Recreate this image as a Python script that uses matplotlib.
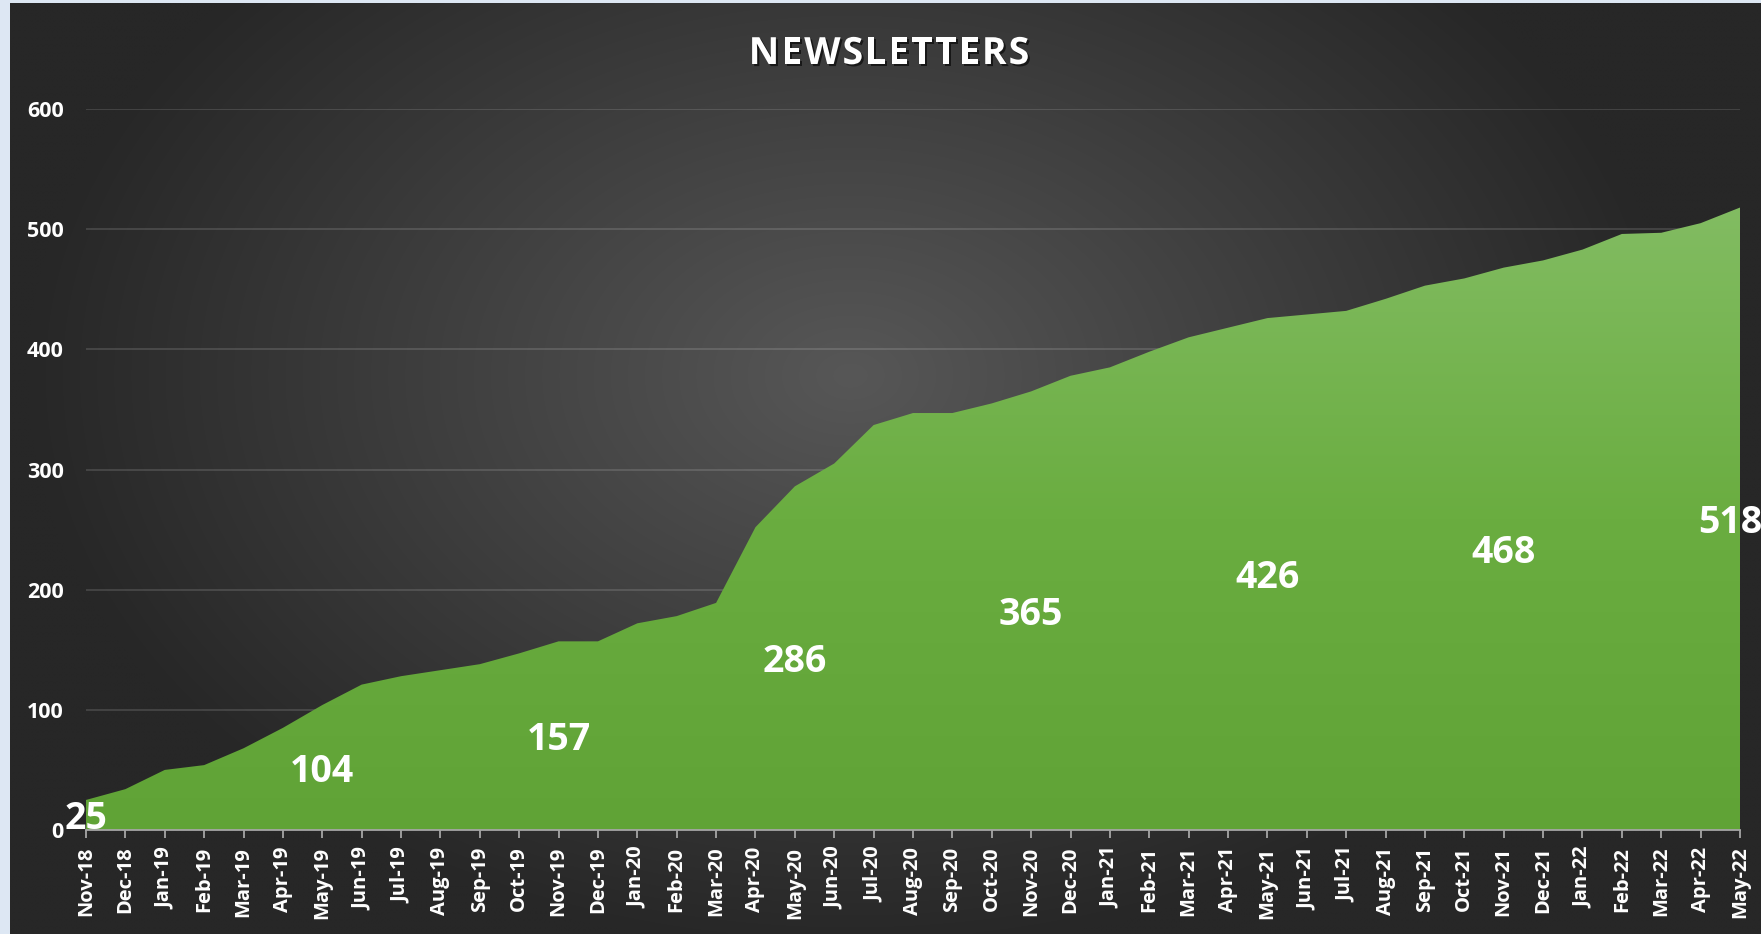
import numpy as np
import matplotlib
matplotlib.use("Agg")
import matplotlib.pyplot as plt
from matplotlib import patheffects as pe
from matplotlib.colors import LinearSegmentedColormap

# ---------------- data ----------------
months = ["Nov-18", "Dec-18",
          "Jan-19", "Feb-19", "Mar-19", "Apr-19", "May-19", "Jun-19",
          "Jul-19", "Aug-19", "Sep-19", "Oct-19", "Nov-19", "Dec-19",
          "Jan-20", "Feb-20", "Mar-20", "Apr-20", "May-20", "Jun-20",
          "Jul-20", "Aug-20", "Sep-20", "Oct-20", "Nov-20", "Dec-20",
          "Jan-21", "Feb-21", "Mar-21", "Apr-21", "May-21", "Jun-21",
          "Jul-21", "Aug-21", "Sep-21", "Oct-21", "Nov-21", "Dec-21",
          "Jan-22", "Feb-22", "Mar-22", "Apr-22", "May-22"]
newsletters = [25, 34,
               50, 54, 68, 85, 104, 121,
               128, 133, 138, 147, 157, 157,
               172, 178, 189, 252, 286, 305,
               337, 347, 347, 355, 365, 378,
               385, 398, 410, 418, 426, 429,
               432, 442, 453, 459, 468, 474,
               483, 496, 497, 505, 518]
labelled_months = ["Nov-18", "May-19", "Nov-19", "May-20", "Nov-20",
                   "May-21", "Nov-21", "May-22"]
y_ticks = [0, 100, 200, 300, 400, 500, 600]
title = "NEWSLETTERS"

FONT = ["Open Sans", "DejaVu Sans"]
plt.rcParams["font.family"] = FONT

W, H = 1761, 934
fig = plt.figure(figsize=(W / 100, H / 100), dpi=100, facecolor="#dde7f3")

# ---------------- background panel (radial gradient) ----------------
bg = fig.add_axes([10 / W, 0, 1 - 10 / W, 1 - 3 / H])
bg.set_axis_off()
gx = np.linspace(0, 1, 700)
gy = np.linspace(0, 1, 380)
GX, GY = np.meshgrid(gx, gy)
cx, cy = 0.48, 0.40
r = np.sqrt(((GX - cx) / 0.47) ** 2 + ((GY - cy) / 0.62) ** 2)
t = np.clip(r, 0, 1)
c_in = np.array([0x57, 0x57, 0x57]) / 255
c_out = np.array([0x27, 0x27, 0x27]) / 255
img = c_in[None, None, :] * (1 - t[..., None]) + c_out[None, None, :] * t[..., None]
bg.imshow(img, extent=[0, 1, 1, 0], aspect="auto", interpolation="bilinear")
bg.set_xlim(0, 1)
bg.set_ylim(1, 0)

# ---------------- main axes ----------------
ax = fig.add_axes([86 / W, 104 / H, (1740 - 86) / W, (830 - 109) / H])
ax.patch.set_alpha(0)
x = np.arange(len(months))

for yt in y_ticks[1:]:
    ax.axhline(yt, color="white", alpha=0.13, lw=1.5, zorder=0)

poly = ax.fill_between(x, newsletters, 0, facecolor="none", edgecolor="none", zorder=2)
green = LinearSegmentedColormap.from_list("g", ["#60a336", "#6aad40", "#82bc62"])
grad = np.linspace(0, 1, 256)[:, None]
ymax = max(newsletters)
im = ax.imshow(grad, cmap=green, origin="lower", aspect="auto",
               extent=[x[0], x[-1], 0, ymax], zorder=2, interpolation="bilinear")
im.set_clip_path(poly.get_paths()[0], transform=ax.transData)
ax.set_xlim(x[0], x[-1])
ax.set_ylim(0, 600)

# data labels at half height
for m in labelled_months:
    i = months.index(m)
    v = newsletters[i]
    dx = -7 if i == len(months) - 1 else 0
    ax.annotate(str(v), (x[i], v / 2), xytext=(dx, -3), textcoords="offset points",
                ha="center", va="center", fontsize=27, fontweight="bold",
                color="white", zorder=5, annotation_clip=False)

# axes styling
for s in ["top", "right", "left"]:
    ax.spines[s].set_visible(False)
ax.spines["bottom"].set_color("#a6a6a6")
ax.spines["bottom"].set_linewidth(1.3)
ax.spines["bottom"].set_zorder(4)
ax.set_xticks(x)
ax.set_xticklabels(months, rotation=90, fontsize=14.5, fontweight="bold", color="white")
ax.tick_params(axis="x", direction="out", length=6, width=1.3, color="#a6a6a6", pad=6)
ax.set_yticks(y_ticks)
ax.set_yticklabels([str(v) for v in y_ticks], fontsize=15.5, fontweight="bold", color="white")
ax.tick_params(axis="y", length=0, pad=16)

# ---------------- title with letter spacing ----------------
fig.canvas.draw()
renderer = fig.canvas.get_renderer()
spacing = 2.0
tobjs, widths = [], []
for ch in title:
    tt = fig.text(0, 0, ch, fontsize=27, fontweight="bold", color="white",
                  va="baseline", ha="left",
                  path_effects=[pe.withSimplePatchShadow(offset=(1.5, -1.5),
                                                        shadow_rgbFace="black", alpha=0.6)])
    tobjs.append(tt)
    widths.append(tt.get_window_extent(renderer).width)
total = sum(widths) + spacing * (len(title) - 1)
xpix = 889 - total / 2
ybase = (H - 64) / H
for tt, w in zip(tobjs, widths):
    tt.set_position((xpix / W, ybase))
    xpix += w + spacing

fig.savefig("out.png", dpi=100, facecolor=fig.get_facecolor())
